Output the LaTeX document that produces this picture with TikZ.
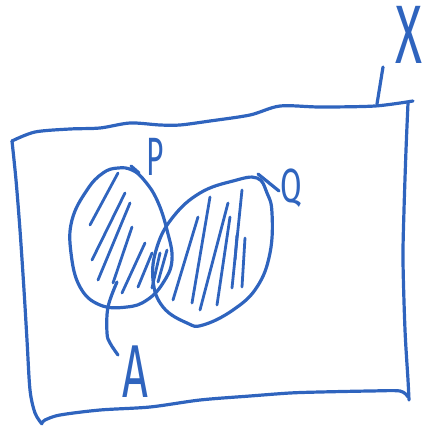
\documentclass[tikz,border=0pt]{standalone}
\usepackage{graphicx}
\usepackage{fontspec}
\newfontfamily\handfont{Fira Sans}
\usetikzlibrary{positioning}
\definecolor{cPen}{HTML}{2F64BE}
\newcommand{\handchar}[3]{\scalebox{#2}[1]{\fontsize{#1}{#1}\selectfont #3}}

\begin{document}
\begin{tikzpicture}[x=1pt, y=-1pt,
  pen/.style={draw=cPen, line width=3.2pt, line cap=round, line join=round},
  hatch/.style={pen, line width=2.8pt},
  letter/.style={text=cPen, inner sep=0pt, font=\handfont}]
  \useasboundingbox (0,0) rectangle (425,428);
  % universe X
  \draw[pen] plot[smooth, tension=0.5] coordinates {(12,141) (35,132) (70,129) (100,128) (130,123) (160,125) (180,125) (210,121) (250,115) (280,106) (320,107) (375,106) (413,101)};
  \draw[pen] plot[smooth, tension=0.5] coordinates {(408,103) (406,150) (404,210) (403,260) (405,330) (408,380) (409,400)};
  \draw[pen] plot[smooth, tension=0.5] coordinates {(408,397) (400,391) (370,391) (320,392) (290,393) (250,396) (200,400) (150,407) (100,410) (60,415) (45,420) (42,423)};
  \draw[pen] plot[smooth, tension=0.5] coordinates {(42,424) (35,413) (30,390) (27,340) (24,290) (20,230) (16,180) (12,141)};
  \node[letter] (labX) at (409,35) {\handchar{83}{0.6}{X}};
  \coordinate (edgeX) at (377,104);
  \draw[pen] (edgeX) -- (383,67);
  % set P
  \draw[pen] plot[smooth cycle, tension=0.7] coordinates {(118,168) (103,173) (87,190) (72,220) (71,253) (80,287) (100,305) (127,307) (147,300) (163,283) (172,260) (167,230) (157,200) (144,180) (132,170)};
  \draw[pen] (131,166) -- (139,173);
  \node[letter] (labP) at (155,157) {\handchar{54}{0.55}{P}};
  % set Q
  \draw[pen] plot[smooth cycle, tension=0.7] coordinates {(257,178) (233,181) (200,193) (173,217) (157,247) (153,280) (163,307) (187,323) (203,325) (233,310) (257,287) (270,253) (272,213) (267,193)};
  \coordinate (tipQ) at (258,174);
  \node[letter] (labQ) at (291,188) {\handchar{48}{0.65}{Q}};
  \draw[pen] (tipQ) -- (279,191);
  % hatching
  \foreach \a/\b in {{(118,173)}/{(90,225)}, {(125,193)}/{(92,260)}, {(130,203)}/{(98,280)},
                     {(132,227)}/{(113,283)}, {(145,243)}/{(122,293)}, {(152,253)}/{(138,287)},
                     {(160,253)}/{(152,288)}, {(167,250)}/{(158,282)},
                     {(198,217)}/{(173,300)}, {(210,197)}/{(192,303)}, {(228,203)}/{(200,310)},
                     {(230,217)}/{(217,305)}, {(242,190)}/{(232,288)}, {(245,238)}/{(242,287)},
                     {(237,235)}/{(235,260)}}
    \draw[hatch] \a -- \b;
  % label A
  \coordinate (tipA) at (117,282);
  \node[letter] (labA) at (135,372) {\handchar{75}{0.6}{A}};
  \draw[pen] plot[smooth, tension=0.6] coordinates {(tipA) (108,307) (107,333) (110,343) (118,355)};
\end{tikzpicture}
\end{document}
